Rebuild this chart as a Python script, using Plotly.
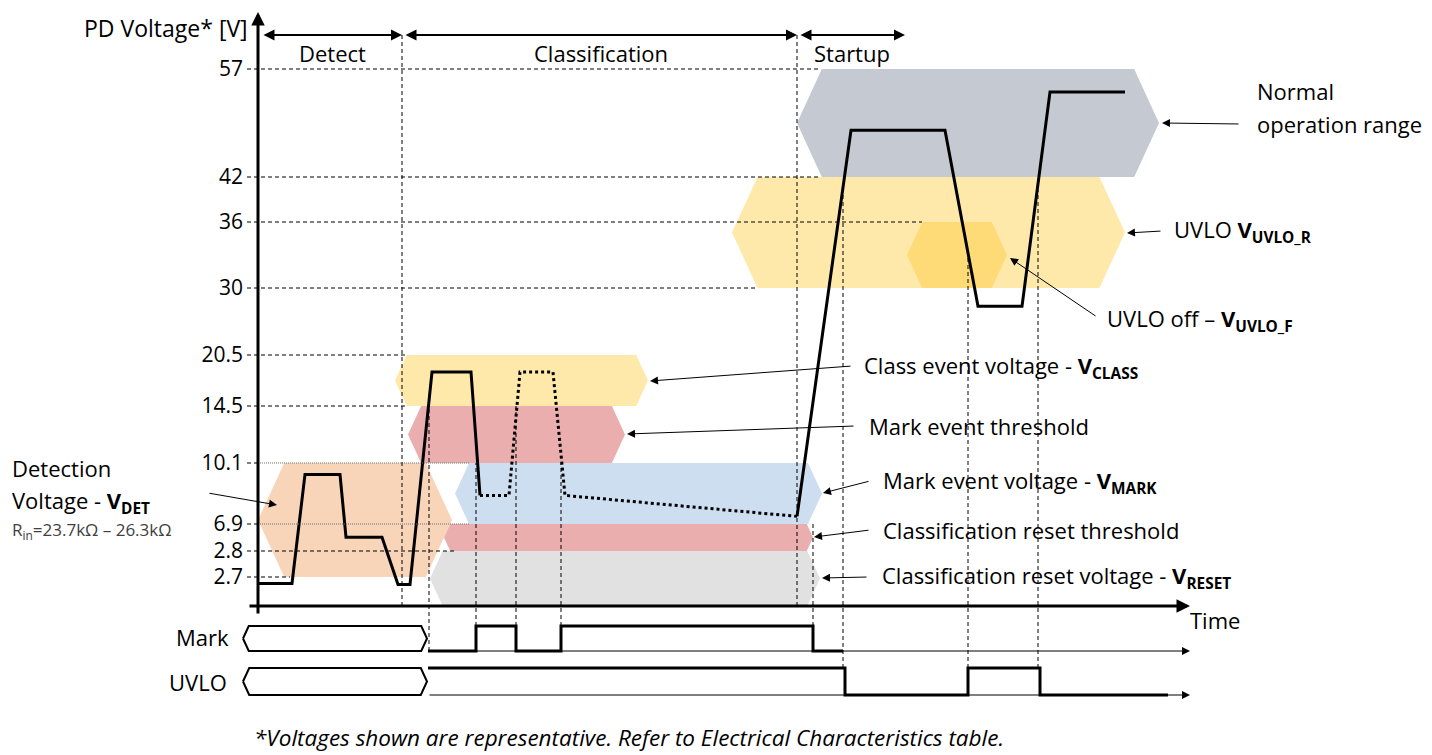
import numpy as np
import plotly.graph_objects as go

# ---------------- DATA ----------------
V_TICKS = [2.7, 2.8, 6.9, 10.1, 14.5, 20.5, 30, 36, 42, 57]
TICK_TEXT = ["2.7", "2.8", "6.9", "10.1", "14.5", "20.5", "30", "36", "42", "57"]

# PD voltage waveform (time in arbitrary units, voltage in V)
WAVE_SOLID1_T = [0, 34, 47, 82, 88, 124, 140, 152, 174, 213, 222]
WAVE_SOLID1_V = [2.1, 2.1, 9.5, 9.5, 4.9, 4.9, 2.0, 2.0, 18.5, 18.5, 8.4]
WAVE_DOT_T = [222, 251, 262, 295, 307, 539]
WAVE_DOT_V = [8.4, 8.4, 18.5, 18.5, 8.4, 7.3]
WAVE_SOLID2_T = [539, 593, 687, 720, 764, 792, 867]
WAVE_SOLID2_V = [7.3, 48.5, 48.5, 27.4, 27.4, 53.8, 53.8]

# Voltage ranges (bands)
BAND_NAMES = ["Detection", "Class event", "Mark threshold", "Mark voltage",
              "Reset threshold", "Reset voltage", "Normal operation",
              "UVLO rising", "UVLO falling"]
BAND_V_LO = [2.7, 14.5, 10.1, 6.9, 2.8, 0.0, 42, 30, 30]
BAND_V_HI = [10.1, 20.5, 14.5, 10.1, 6.9, 2.8, 57, 42, 36]
BAND_T0 = [0, 137, 150, 197, 186, 172, 539, 474, 649]
BAND_T1 = [194, 390, 367, 564, 555, 562, 901, 867, 749]

# Digital signals (state transitions)
MARK_T = [170, 218, 258, 303, 555, 585]
MARK_STATE = [0, 1, 0, 1, 0, 0]
UVLO_T = [170, 587, 710, 782, 910]
UVLO_STATE = [1, 0, 1, 0, 0]

PHASES = ["Detect", "Classification", "Startup"]
PHASE_T0 = [4, 146, 541]
PHASE_T1 = [144, 539, 647]

# ---------------- SCALE / STYLE ----------------
SCALE_V = [0.0] + V_TICKS
SCALE_POS = [0, 29, 55, 82, 143, 200, 251, 318, 384, 429, 537]


def vpos(v):
    return np.interp(np.asarray(v, dtype=float), SCALE_V, SCALE_POS)


BAND_COLORS = ["#F8D5B9", "#FFE9AA", "#EAAEAE", "#CCDEF0", "#EAAEAE",
               "#E1E1E1", "#C5CAD2", "#FFE9AA", "#FFDB78"]

FONT = "Open Sans"
FS = 22
MARK_HI, MARK_LO = -20, -45
UVLO_HI, UVLO_LO = -62, -89
TOP_ARROW_Y = 571

fig = go.Figure()


def hexagon(t0, t1, y0, y1):
    h = y1 - y0
    tip = 0.23 * h
    ym = (y0 + y1) / 2
    xs = [t0, t0 + tip, t1 - tip, t1, t1 - tip, t0 + tip, t0]
    ys = [ym, y1, y1, ym, y0, y0, ym]
    return xs, ys


for name, vlo, vhi, t0, t1, col in zip(BAND_NAMES, BAND_V_LO, BAND_V_HI,
                                       BAND_T0, BAND_T1, BAND_COLORS):
    xs, ys = hexagon(t0, t1, float(vpos(vlo)), float(vpos(vhi)))
    fig.add_trace(go.Scatter(x=xs, y=ys, fill="toself", fillcolor=col,
                             mode="lines", line=dict(width=0),
                             hoverinfo="skip", showlegend=False, name=name))

# waveform
fig.add_trace(go.Scatter(x=WAVE_SOLID1_T, y=vpos(WAVE_SOLID1_V), mode="lines",
                         line=dict(color="black", width=3), showlegend=False))
fig.add_trace(go.Scatter(x=WAVE_DOT_T, y=vpos(WAVE_DOT_V), mode="lines",
                         line=dict(color="black", width=3, dash="dot"),
                         showlegend=False))
fig.add_trace(go.Scatter(x=WAVE_SOLID2_T, y=vpos(WAVE_SOLID2_V), mode="lines",
                         line=dict(color="black", width=3), showlegend=False))

# bus (unknown-state) shapes for Mark and UVLO rows
for hi, lo in [(MARK_HI, MARK_LO), (UVLO_HI, UVLO_LO)]:
    xs, ys = hexagon(-15, 169, lo, hi)
    fig.add_trace(go.Scatter(x=xs, y=ys, mode="lines",
                             line=dict(color="black", width=2),
                             showlegend=False, hoverinfo="skip"))

# digital signals
mark_y = [MARK_LO + s * (MARK_HI - MARK_LO) for s in MARK_STATE]
uvlo_y = [UVLO_LO + s * (UVLO_HI - UVLO_LO) for s in UVLO_STATE]
fig.add_trace(go.Scatter(x=MARK_T, y=mark_y, mode="lines", line_shape="hv",
                         line=dict(color="black", width=3), showlegend=False))
fig.add_trace(go.Scatter(x=UVLO_T, y=uvlo_y, mode="lines", line_shape="hv",
                         line=dict(color="black", width=3), showlegend=False))

# ---------------- guide lines ----------------
GRID_END = [32, 197, 212, 212, 149, 149, 500, 664, 562, 562]
for v, tend in zip(V_TICKS, GRID_END):
    y = float(vpos(v))
    if v in (6.9, 10.1):
        fig.add_shape(type="line", x0=-11, x1=0, y0=y, y1=y,
                      line=dict(color="black", width=1, dash="4px,3px"))
        fig.add_shape(type="line", x0=0, x1=tend, y0=y, y1=y,
                      line=dict(color="#707070", width=1, dash="1px,1px"))
    else:
        fig.add_shape(type="line", x0=-11, x1=tend, y0=y, y1=y,
                      line=dict(color="black", width=1, dash="4px,3px"))

VLINES = [(144, TOP_ARROW_Y, 0), (539, TOP_ARROW_Y, 0),
          (171, 200, MARK_LO), (218, 143, MARK_HI), (258, 200, MARK_HI),
          (303, 143, MARK_HI), (555, 82, MARK_HI),
          (585, 418, UVLO_HI), (710, 351, UVLO_HI), (780, 416, UVLO_HI)]
for t, ytop, ybot in VLINES:
    fig.add_shape(type="line", x0=t, x1=t, y0=ybot, y1=ytop,
                  line=dict(color="black", width=1, dash="4px,3px"))

# ---------------- arrows ----------------
ann = []


def arrow(tx, ty, hx, hy, width=1, size=1.6, both=False):
    d = dict(x=hx, y=hy, ax=tx, ay=ty, xref="x", yref="y", axref="x",
             ayref="y", text="", showarrow=True, arrowhead=2,
             arrowsize=size, arrowwidth=width, arrowcolor="black",
             standoff=0, startstandoff=0)
    if both:
        d.update(arrowside="end+start", startarrowhead=2, startarrowsize=size)
    ann.append(d)


# axes
arrow(0, -9, 0, 594, width=3, size=0.9)
arrow(-10, 0, 932, 0, width=3, size=0.9)
arrow(170, MARK_LO, 932, MARK_LO, width=1, size=1.6)
arrow(170, UVLO_LO, 932, UVLO_LO, width=1, size=1.6)
# phase arrows
for p, t0, t1 in zip(PHASES, PHASE_T0, PHASE_T1):
    arrow(t0, TOP_ARROW_Y, t1, TOP_ARROW_Y, width=2, size=1.1, both=True)
    ann.append(dict(x=(t0 + t1) / 2, y=TOP_ARROW_Y - 18, text=p,
                    xref="x", yref="y", showarrow=False,
                    font=dict(size=FS, color="black", family=FONT)))

# label pointers (tail -> head), in (t, level)
POINTERS = [(982, 482, 904, 483), (904, 375, 869, 373), (839, 289, 752, 348),
            (594, 240, 392, 225), (597, 180, 369, 172), (612, 125, 565, 113),
            (612, 76, 556, 69), (610, 29, 564, 28), (-50, 113, 19, 101)]
for tx, ty, hx, hy in POINTERS:
    arrow(tx, ty, hx, hy, width=1, size=1.6)

LABELS = [
    (997, 515, "Normal"),
    (997, 482, "operation range"),
    (914, 375, "UVLO <b>V<sub>UVLO_R</sub></b>"),
    (847, 286, "UVLO off \u2013 <b>V<sub>UVLO_F</sub></b>"),
    (604, 239, "Class event voltage - <b>V<sub>CLASS</sub></b>"),
    (609, 180, "Mark event threshold"),
    (623, 124, "Mark event voltage - <b>V<sub>MARK</sub></b>"),
    (623, 76, "Classification reset threshold"),
    (622, 29, "Classification reset voltage - <b>V<sub>RESET</sub></b>"),
    (-248, 138, "Detection"),
    (-248, 104, "Voltage - <b>V<sub>DET</sub></b>"),
    (930, -14, "Time"),
]
for x, y, txt in LABELS:
    ann.append(dict(x=x, y=y, text=txt, xref="x", yref="y", showarrow=False,
                    xanchor="left", yanchor="middle",
                    font=dict(size=FS, color="black", family=FONT)))

ann.append(dict(x=-248, y=76, text="R<sub>in</sub>=23.7k\u03a9 \u2013 26.3k\u03a9",
                xref="x", yref="y", showarrow=False, xanchor="left",
                font=dict(size=17, color="#404040", family=FONT)))
ann.append(dict(x=-8, y=578, text="PD Voltage* [V]", xref="x", yref="y",
                showarrow=False, xanchor="right",
                font=dict(size=23, color="black", family=FONT)))
ann.append(dict(x=-27, y=-31, text="Mark", xref="x", yref="y",
                showarrow=False, xanchor="right",
                font=dict(size=FS, color="black", family=FONT)))
ann.append(dict(x=-29, y=-76, text="UVLO", xref="x", yref="y",
                showarrow=False, xanchor="right",
                font=dict(size=FS, color="black", family=FONT)))
ann.append(dict(x=371, y=-131,
                text="<i>*Voltages shown are representative. Refer to Electrical Characteristics table.</i>",
                xref="x", yref="y", showarrow=False,
                font=dict(size=22.5, color="black", family=FONT)))

fig.update_layout(
    width=1432, height=755,
    margin=dict(l=0, r=0, t=0, b=0),
    paper_bgcolor="white", plot_bgcolor="white",
    template="none",
    showlegend=False,
    annotations=ann,
    xaxis=dict(range=[-258, 1174], visible=False, fixedrange=True),
    yaxis=dict(range=[-149, 606], anchor="free", position=258 / 1432,
               side="left", tickvals=[float(vpos(v)) for v in V_TICKS],
               ticktext=TICK_TEXT, ticks="", showline=False, showgrid=False,
               zeroline=False, ticklabelstandoff=15, automargin=False,
               tickfont=dict(size=21, color="black", family=FONT),
               fixedrange=True),
)

fig.write_html("out.html",
               config={"displayModeBar": False},
               post_script="document.body.style.margin='0px';"
                           "document.body.style.overflow='hidden';")
